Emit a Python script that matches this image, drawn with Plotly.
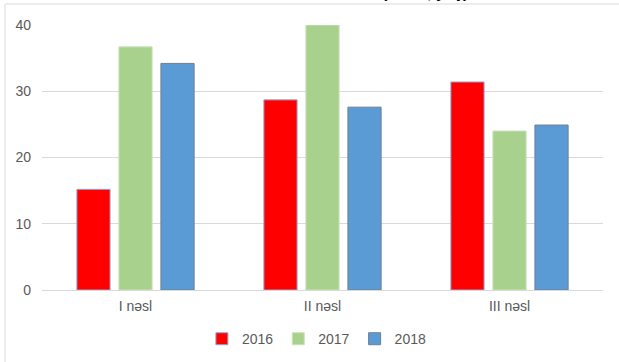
import plotly.graph_objects as go

categories = ["I nəsl", "II nəsl", "III nəsl"]
years = ["2016", "2017", "2018"]
values_2016 = [15.2, 28.7, 31.4]
values_2017 = [36.7, 40.0, 24.0]
values_2018 = [34.2, 27.6, 24.9]

series = [values_2016, values_2017, values_2018]
fills = ["#FF0000", "#A9D18E", "#5B9BD5"]
outlines = ["#8FA9D6", "#C9E3B8", "#6F7F90"]

fig = go.Figure()
for name, vals, fc, lc in zip(years, series, fills, outlines):
    fig.add_trace(go.Bar(
        x=categories, y=vals, name=name,
        marker=dict(color=fc, line=dict(color=lc, width=1)),
    ))

fig.update_layout(
    width=619, height=362,
    margin=dict(l=42, r=16, t=25, b=72, autoexpand=False),
    paper_bgcolor="white", plot_bgcolor="rgba(0,0,0,0)",
    barmode="group", bargap=0.326, bargroupgap=0.21,
    font=dict(family="'Liberation Sans', Arial, sans-serif", color="#595959", size=14),
    showlegend=True,
    legend=dict(orientation="h", x=0.49, xanchor="center", y=-0.125, yanchor="top",
                font=dict(size=14, color="#595959"), itemwidth=30, traceorder="normal"),
    xaxis=dict(showgrid=False, showline=False, ticks="", tickfont=dict(size=14, color="#595959"),
               ticklabelstandoff=6),
    yaxis=dict(range=[0, 40], dtick=10, showgrid=True, gridcolor="#D9D9D9", gridwidth=1,
               zeroline=True, zerolinecolor="#D9D9D9", zerolinewidth=1, showline=False,
               ticks="", tickfont=dict(size=14, color="#595959"), ticklabelstandoff=10),
    shapes=[dict(type="rect", xref="paper", yref="paper",
                 x0=-37/561, x1=1.2, y0=-0.5, y1=(290-4)/265,
                 line=dict(color="#D9D9D9", width=1), fillcolor="rgba(0,0,0,0)", layer="below")],
    annotations=[dict(text="<b>(faizlə, yaş)</b>", xref="paper", yref="paper",
                      x=(425-42)/561, y=(290+8)/265, xanchor="center", yanchor="middle",
                      showarrow=False, font=dict(size=16, color="#000000"))],
)

fig.write_html("out.html")
